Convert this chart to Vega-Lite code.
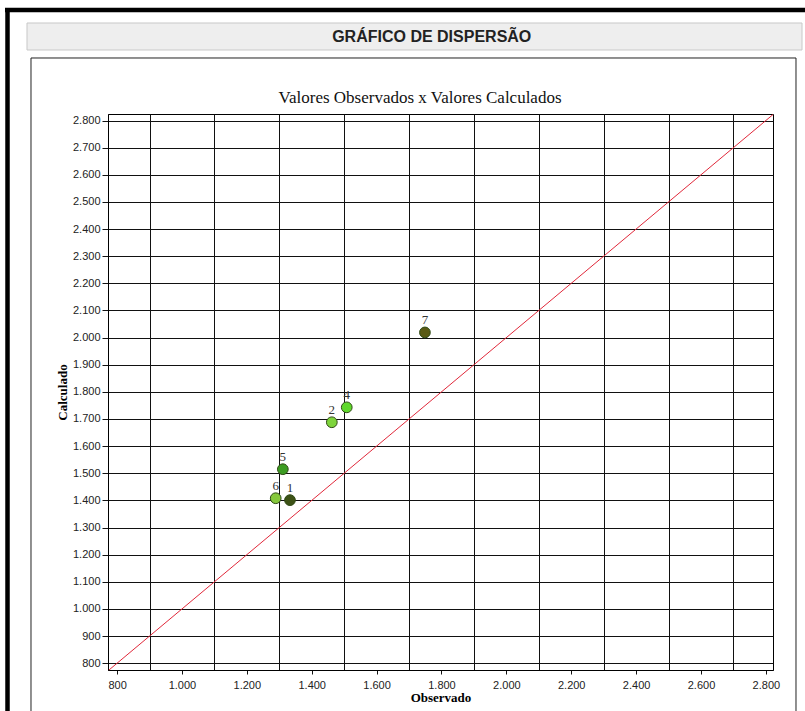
{
  "$schema": "https://vega.github.io/schema/vega-lite/v6.json",
  "width": 665,
  "height": 556,
  "autosize": {"type": "none"},
  "padding": {"left": 108, "top": 114, "right": 32, "bottom": 41},
  "background": "white",
  "datasets": {
    "pontos": [
      {"id": "1", "observado": 1333, "calculado": 1401},
      {"id": "2", "observado": 1462, "calculado": 1688},
      {"id": "4", "observado": 1508, "calculado": 1743},
      {"id": "5", "observado": 1311, "calculado": 1515},
      {"id": "6", "observado": 1289, "calculado": 1408},
      {"id": "7", "observado": 1749, "calculado": 2019}
    ],
    "diagonal": [
      {"observado": 775, "calculado": 775},
      {"observado": 2822, "calculado": 2822}
    ],
    "moldura": [{"parte": "moldura"}]
  },
  "config": {
    "view": {"stroke": "#000", "strokeWidth": 1},
    "axis": {
      "domainColor": "#000",
      "tickColor": "#111",
      "gridColor": "#111",
      "gridWidth": 1,
      "labelFont": "Liberation Sans",
      "labelFontSize": 11,
      "labelColor": "#222",
      "titleFont": "Liberation Serif",
      "titleFontSize": 13,
      "titleFontWeight": "bold",
      "titleColor": "#000"
    }
  },
  "layer": [
    {
      "data": {"name": "diagonal"},
      "mark": {"type": "line", "color": "#e0283a", "strokeWidth": 1},
      "encoding": {
        "x": {
          "field": "observado",
          "type": "quantitative",
          "scale": {"domain": [772, 2822], "nice": false, "zero": false},
          "axis": {
            "title": "Observado",
            "titlePadding": 1,
            "values": [800, 900, 1000, 1100, 1200, 1300, 1400, 1500, 1600, 1700, 1800, 1900, 2000, 2100, 2200, 2300, 2400, 2500, 2600, 2700, 2800],
            "tickCount": 40,
            "labelExpr": "datum.value % 200 == 0 ? replace(format(datum.value, ',d'), ',', '.') : ''",
            "labelOverlap": false,
            "labelFlush": false,
            "labelPadding": 5,
            "tickSize": 4,
            "tickOpacity": {"condition": {"test": "datum.value % 200 == 0", "value": 1}, "value": 0},
            "grid": true,
            "gridOpacity": {"condition": {"test": "datum.value % 200 == 100", "value": 1}, "value": 0}
          }
        },
        "y": {
          "field": "calculado",
          "type": "quantitative",
          "scale": {"domain": [775, 2824], "nice": false, "zero": false},
          "axis": {
            "title": "Calculado",
            "titlePadding": 3,
            "values": [800, 900, 1000, 1100, 1200, 1300, 1400, 1500, 1600, 1700, 1800, 1900, 2000, 2100, 2200, 2300, 2400, 2500, 2600, 2700, 2800],
            "tickCount": 40,
            "labelExpr": "replace(format(datum.value, ',d'), ',', '.')",
            "labelOverlap": false,
            "labelFlush": false,
            "labelPadding": 2,
            "tickSize": 6,
            "grid": true
          }
        }
      }
    },
    {
      "data": {"name": "pontos"},
      "mark": {"type": "circle", "size": 115, "opacity": 1, "stroke": "#2f4a14", "strokeWidth": 1},
      "encoding": {
        "x": {"field": "observado", "type": "quantitative"},
        "y": {"field": "calculado", "type": "quantitative"},
        "color": {
          "field": "id",
          "type": "nominal",
          "scale": {"domain": ["1", "2", "4", "5", "6", "7"], "range": ["#3d5216", "#7ed43c", "#5fd82c", "#3c9c22", "#86c83c", "#5a5a14"]},
          "legend": null
        }
      }
    },
    {
      "data": {"name": "pontos"},
      "mark": {"type": "text", "font": "Liberation Serif", "fontSize": 13, "fill": "#333333", "baseline": "alphabetic", "dy": -8},
      "encoding": {
        "x": {"field": "observado", "type": "quantitative"},
        "y": {"field": "calculado", "type": "quantitative"},
        "text": {"field": "id"}
      }
    },
    {
      "data": {"name": "moldura"},
      "mark": {"type": "text", "text": "Valores Observados x Valores Calculados", "font": "Liberation Serif", "fontSize": 17, "fill": "#111111", "align": "center", "baseline": "alphabetic"},
      "encoding": {
        "x": {"datum": 1734, "type": "quantitative"},
        "y": {"datum": 2864, "type": "quantitative"}
      }
    },
    {
      "data": {"name": "moldura"},
      "mark": {"type": "rect", "fill": "#eeeeee", "stroke": "#c8c8c8", "strokeWidth": 1},
      "encoding": {
        "x": {"datum": 522.3, "type": "quantitative"},
        "x2": {"datum": 2911.4},
        "y": {"datum": 3159.4, "type": "quantitative"},
        "y2": {"datum": 3059.9}
      }
    },
    {
      "data": {"name": "moldura"},
      "mark": {"type": "text", "text": "GRÁFICO DE DISPERSÃO", "font": "Liberation Sans", "fontSize": 16, "fontWeight": "bold", "fill": "#222222", "align": "center", "baseline": "middle"},
      "encoding": {
        "x": {"datum": 1770, "type": "quantitative"},
        "y": {"datum": 3109.6, "type": "quantitative"}
      }
    },
    {
      "data": {"name": "moldura"},
      "mark": {"type": "rect", "fill": "transparent", "stroke": "#222", "strokeWidth": 1},
      "encoding": {
        "x": {"datum": 534.6, "type": "quantitative"},
        "x2": {"datum": 2892.9},
        "y": {"datum": 3030.4, "type": "quantitative"},
        "y2": {"datum": 590.7}
      }
    },
    {
      "data": {"name": "moldura"},
      "mark": {"type": "rule", "color": "#000", "strokeWidth": 4.5},
      "encoding": {
        "x": {"datum": 462.2, "type": "quantitative"},
        "y": {"datum": 3214.6, "type": "quantitative"},
        "y2": {"datum": 580}
      }
    },
    {
      "data": {"name": "moldura"},
      "mark": {"type": "rule", "color": "#000", "strokeWidth": 4.5},
      "encoding": {
        "y": {"datum": 3207.3, "type": "quantitative"},
        "x": {"datum": 454.5, "type": "quantitative"},
        "x2": {"datum": 2940}
      }
    }
  ]
}
